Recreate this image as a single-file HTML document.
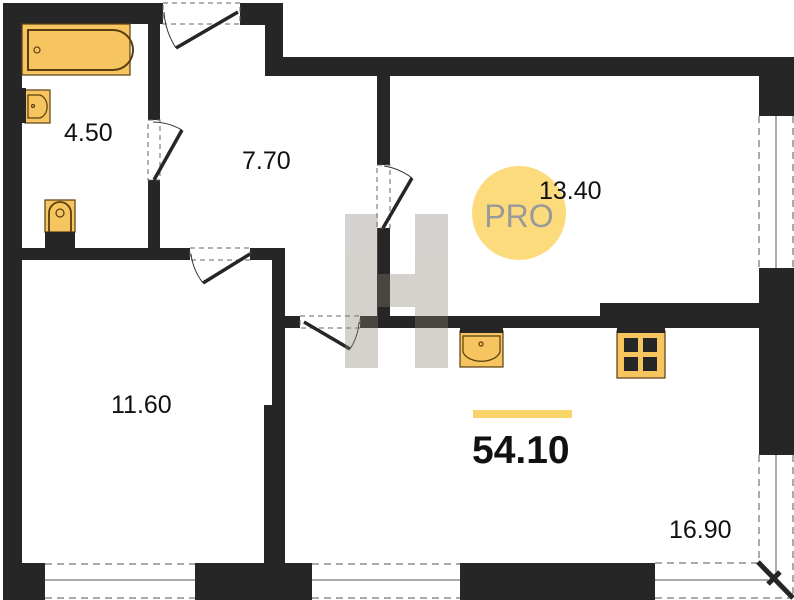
<!DOCTYPE html>
<html><head><meta charset="utf-8"><style>
html,body{margin:0;padding:0;background:#fff;}
svg{display:block;}
text{font-family:"Liberation Sans",sans-serif;}
</style></head><body>
<svg width="794" height="600" viewBox="0 0 794 600" xmlns="http://www.w3.org/2000/svg">
<g fill="#262626">
<rect x="3" y="3" width="19" height="597"/>
<rect x="3" y="3" width="160" height="21"/>
<rect x="148" y="3" width="12" height="117"/>
<rect x="148" y="180" width="12" height="80"/>
<rect x="22" y="248" width="168" height="12"/>
<rect x="240" y="3" width="43" height="22"/>
<rect x="265" y="3" width="18" height="73"/>
<rect x="265" y="57" width="529" height="19"/>
<rect x="759" y="57" width="35" height="59"/>
<rect x="759" y="268" width="35" height="187"/>
<rect x="377" y="76" width="13" height="89"/>
<rect x="377" y="228" width="13" height="100"/>
<rect x="360" y="316" width="399" height="12"/>
<rect x="600" y="303" width="159" height="25"/>
<rect x="250" y="248" width="35" height="12"/>
<rect x="272" y="260" width="13" height="150"/>
<rect x="264" y="405" width="21" height="160"/>
<rect x="283" y="316" width="17" height="12"/>
<rect x="3" y="563" width="42" height="37"/>
<rect x="195" y="563" width="117" height="37"/>
<rect x="460" y="563" width="195" height="37"/>
</g>
<g stroke="#555" fill="none">
<line x1="45" y1="564" x2="195" y2="564" stroke-dasharray="7,5"/>
<line x1="45" y1="598" x2="195" y2="598" stroke-dasharray="7,5"/>
<line x1="45" y1="580" x2="195" y2="580"/>
<line x1="312" y1="564" x2="460" y2="564" stroke-dasharray="7,5"/>
<line x1="312" y1="598" x2="460" y2="598" stroke-dasharray="7,5"/>
<line x1="312" y1="580" x2="460" y2="580"/>
<line x1="655" y1="563" x2="758" y2="563" stroke-dasharray="7,5"/>
<line x1="655" y1="598" x2="790" y2="598" stroke-dasharray="7,5"/>
<line x1="655" y1="580" x2="768" y2="580"/>
<line x1="759" y1="116" x2="759" y2="268" stroke-dasharray="7,5"/>
<line x1="793" y1="116" x2="793" y2="268" stroke-dasharray="7,5"/>
<line x1="776" y1="116" x2="776" y2="268"/>
<line x1="759" y1="455" x2="759" y2="562" stroke-dasharray="7,5"/>
<line x1="793" y1="455" x2="793" y2="598" stroke-dasharray="7,5"/>
<line x1="776" y1="455" x2="776" y2="575"/>
</g>
<line x1="758" y1="562" x2="793" y2="598" stroke="#262626" stroke-width="5"/>
<line x1="768" y1="584" x2="780" y2="572" stroke="#262626" stroke-width="5"/>
<g fill="none" stroke="#666" stroke-dasharray="5,4">
<rect x="163" y="3" width="77" height="21"/>
<rect x="148" y="120" width="12" height="60"/>
<rect x="190" y="248" width="60" height="12"/>
<rect x="377" y="165" width="13" height="63"/>
<rect x="300" y="316" width="60" height="12"/>
</g>
<g stroke="#262626" stroke-width="3.5">
<line x1="238" y1="12" x2="176" y2="48"/>
<line x1="154" y1="180" x2="182" y2="130"/>
<line x1="250" y1="254" x2="203" y2="283"/>
<line x1="383" y1="228" x2="412" y2="178"/>
<line x1="304" y1="322" x2="350" y2="349"/>
</g>
<g fill="none" stroke="#333" stroke-width="1">
<path d="M164 12 A75 75 0 0 0 176 48"/>
<path d="M153 122 A58 58 0 0 1 182 130"/>
<path d="M191 254 A59 59 0 0 0 203 283"/>
<path d="M384 166 A62 62 0 0 1 412 178"/>
<path d="M359 322 A55 55 0 0 1 350 349"/>
</g>
<g fill="#f6c55f" stroke="#5a3d10" stroke-width="1.2">
<rect x="22" y="24" width="108" height="51"/>
<path d="M28 30 H113 A20 20 0 0 1 113 70 H28 Z" fill="none" stroke-width="2"/>
<circle cx="37" cy="50" r="3" fill="none"/>
<rect x="25" y="90" width="25" height="33"/>
<path d="M28 95 H40 A10 12 0 0 1 40 118 H28 Z" fill="none"/>
<circle cx="33" cy="106" r="1.5" fill="none"/>
<rect x="45" y="200" width="30" height="32"/>
<path d="M49 232 V213 A11 11 0 0 1 71 213 V232" fill="none" stroke-width="1.8"/>
<circle cx="60" cy="213" r="4" fill="none"/>
<rect x="460" y="331" width="43" height="36"/>
<path d="M463 336 H500 V352 A19 12 0 0 1 463 352 Z" fill="none"/>
<circle cx="481" cy="344" r="2" fill="none"/>
<rect x="617" y="331" width="48" height="47"/>
</g>
<rect x="22" y="88" width="4" height="35" fill="#262626"/>
<rect x="45" y="232" width="30" height="16" fill="#262626"/>
<rect x="460" y="328" width="43" height="5" fill="#262626"/>
<rect x="617" y="328" width="48" height="5" fill="#262626"/>
<g fill="#262626"><rect x="624" y="338" width="14" height="14"/><rect x="643" y="338" width="14" height="14"/><rect x="624" y="357" width="14" height="14"/><rect x="643" y="357" width="14" height="14"/></g>
<g fill="#8a7f75" opacity="0.35">
<rect x="345" y="214" width="33" height="154"/>
<rect x="415" y="214" width="33" height="154"/>
<rect x="378" y="274" width="37" height="33"/>
</g>
<circle cx="519" cy="213" r="47" fill="#fcdb7d"/>
<text x="519" y="227" font-size="32" fill="#999" text-anchor="middle">PRO</text>
<g font-size="25" fill="#111">
<text x="64" y="141">4.50</text>
<text x="242" y="169">7.70</text>
<text x="539" y="199">13.40</text>
<text x="111" y="413">11.60</text>
<text x="669" y="538">16.90</text>
</g>
<rect x="473" y="410" width="99" height="8" fill="#f9d46b"/>
<text x="472" y="463" font-size="39" font-weight="bold" fill="#111">54.10</text>
</svg>
</body></html>
